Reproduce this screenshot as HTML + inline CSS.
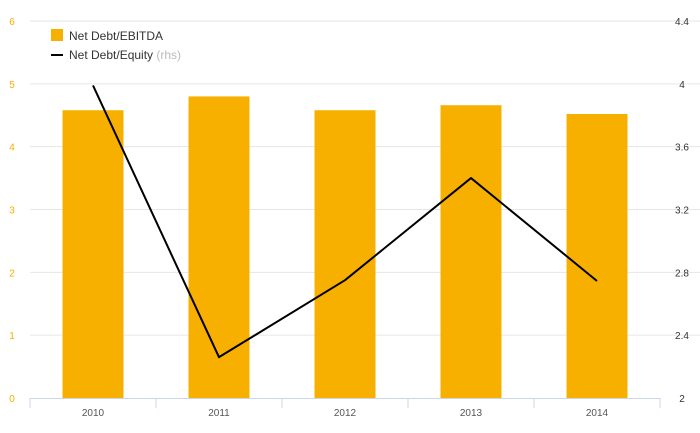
<!DOCTYPE html>
<html><head><meta charset="utf-8"><style>
body{margin:0;background:#fff;font-family:"Liberation Sans",sans-serif;}
svg{display:block}
</style></head><body>
<svg id="chart" width="700" height="433" xmlns="http://www.w3.org/2000/svg"></svg>
<script>
const categories=["2010","2011","2012","2013","2014"];
const debtEbitda=[4.58,4.8,4.58,4.66,4.52];
const debtEquity=[3.99,2.26,2.75,3.40,2.745];
const leftTicks=[0,1,2,3,4,5,6];
const rightTicks=[2,2.4,2.8,3.2,3.6,4,4.4];
const NS="http://www.w3.org/2000/svg";
const svg=document.getElementById('chart');
const X0=30,X1=660,Y0=398,Y1=21;
const yL=v=>Y0-(v-0)/(6-0)*(Y0-Y1);
const yR=v=>Y0-(v-2)/(4.4-2)*(Y0-Y1);
const band=(X1-X0)/categories.length;
const xC=i=>X0+band*(i+0.5);
function mk(t,a,txt){const e=document.createElementNS(NS,t);for(const k in a)e.setAttribute(k,a[k]);if(txt!==undefined)e.textContent=txt;svg.appendChild(e);return e;}
leftTicks.forEach((v,i)=>{
 if(i>0){const g=mk('line',{x1:X0,x2:700,y1:yL(v),y2:yL(v),stroke:'#e6e6e6','stroke-width':1});
 
 }
 const t=mk('text',{x:12,y:yL(v)+4,'font-size':10,fill:'#f6b000','text-anchor':'middle'},String(v));
 
 
});
rightTicks.forEach(v=>{
 const t=mk('text',{x:682,y:yR(v)+4,'font-size':10,fill:'#333','text-anchor':'middle'},String(v));
 
 
});
debtEbitda.forEach((v,i)=>{
 const b=mk('rect',{x:xC(i)-30.5,y:yL(v),width:61,height:Y0-yL(v),fill:'#f8b000'});
 
 
});
const ax=mk('line',{x1:X0,x2:X1,y1:Y0+0.5,y2:Y0+0.5,stroke:'#ccd6eb','stroke-width':1});


for(let i=0;i<=categories.length;i++){
 const tk=mk('line',{x1:X0+band*i,x2:X0+band*i,y1:Y0,y2:Y0+10,stroke:'#ccd6eb'});
 
 
}
categories.forEach((c,i)=>{
 const t=mk('text',{x:xC(i),y:416,'font-size':10,fill:'#555','text-anchor':'middle'},c);
 
 
});
const pts=debtEquity.map((v,i)=>xC(i)+','+yR(v)).join(' ');
const ln=mk('polyline',{points:pts,fill:'none',stroke:'#000','stroke-width':2,'stroke-linejoin':'round'});


const lg1=mk('rect',{x:51,y:29,width:12,height:12,fill:'#f8b000'});


const lt1=mk('text',{x:69,y:40,'font-size':12,fill:'#333'},'Net Debt/EBITDA');


const lg2=mk('line',{x1:51,x2:63,y1:55,y2:55,stroke:'#000','stroke-width':2});


const lt2=mk('text',{x:69,y:59,'font-size':12,fill:'#333'},'Net Debt/Equity ');


const ts=document.createElementNS(NS,'tspan');ts.setAttribute('fill','#bbb');ts.textContent='(rhs)';lt2.appendChild(ts);
</script>
</body></html>
